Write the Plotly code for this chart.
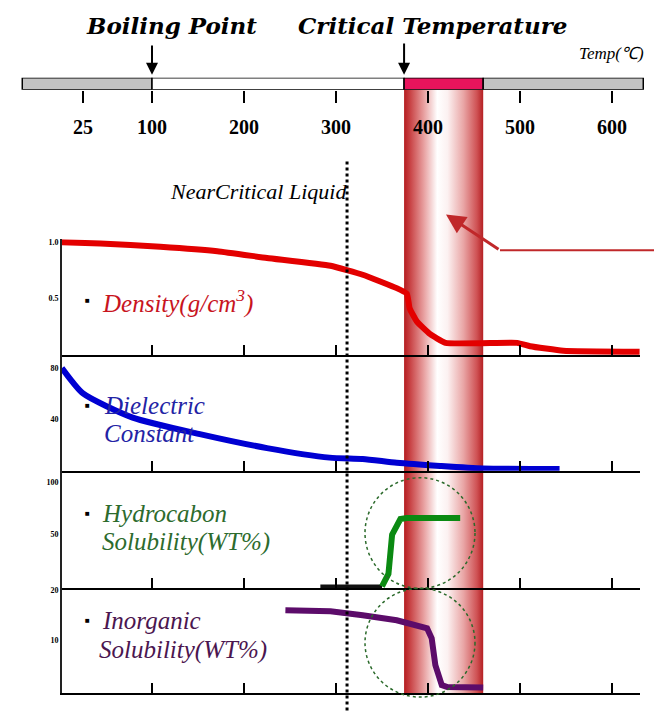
import plotly.graph_objects as go

W, H = 662, 717
OFF = 8  # page body margin of the browser

# ---------------- data ----------------
top_ticks = [25, 100, 200, 300, 400, 500, 600]
panel_ticks = [100, 200, 300, 400, 500, 600]
boiling_point = 100
critical_temp = 374
supercritical_end = 460
scale_min, scale_max = -41, 634
near_critical_T = 312

density_T = [2, 44, 109, 171, 225, 294, 329, 366, 377, 380, 388, 402, 419, 497, 511, 547, 630]
density_val = [1.0, 0.99, 0.96, 0.92, 0.86, 0.79, 0.71, 0.59, 0.54, 0.41, 0.29, 0.18, 0.10, 0.10, 0.07, 0.03, 0.02]

dielectric_T = [2, 25, 79, 152, 225, 293, 329, 366, 413, 460, 543]
dielectric_val = [80, 60, 41, 28, 17, 9.5, 8.5, 5.5, 3, 1, 0.5]

hydro_T = [283, 350, 357, 361, 370, 377, 435]
hydro_val = [0, 0, 12, 50, 65, 66, 66]

inorg_T = [245, 294, 329, 366, 399, 404, 408, 415, 421, 460]
inorg_val = [16, 15.8, 15, 14, 12.4, 10.4, 5, 1, 0.6, 0.5]

# ---------------- layout helpers (screen pixel -> temperature axis) ----------------
def T(px):
    return 100 + (px - 152) / 0.92

def dom(py_top, py_bot):
    return [1 - (py_bot - OFF) / H, 1 - (py_top - OFF) / H]

SERIF = "Liberation Serif"
WIDE = "DejaVu Serif"
fig = go.Figure()

# critical band (gradient)
fig.add_trace(go.Scatter(
    x=[critical_temp, supercritical_end, supercritical_end, critical_temp, critical_temp],
    y=[88, 88, 693, 693, 88], mode="lines", line=dict(width=0),
    fill="toself",
    fillgradient=dict(type="horizontal", colorscale=[
        [0, "#b51d20"], [0.08, "#c94446"], [0.25, "#e8a0a0"], [0.42, "#ffffff"],
        [0.55, "#fcf1f1"], [0.75, "#e9a6a6"], [0.92, "#cf5254"], [1, "#b52023"]]),
    xaxis="x", yaxis="y", hoverinfo="skip", showlegend=False))

# top temperature bar
seg_base = [scale_min, boiling_point, critical_temp, supercritical_end]
seg_end = [boiling_point, critical_temp, supercritical_end, scale_max]
seg_col = ["#c3c3c3", "#ffffff", "#e8145c", "#c3c3c3"]
fig.add_trace(go.Bar(
    orientation="h", base=seg_base, x=[e - b for b, e in zip(seg_base, seg_end)],
    y=[0, 0, 0, 0], width=1, marker=dict(color=seg_col, line=dict(color="black", width=1.5)),
    xaxis="x2", yaxis="y2", showlegend=False, hoverinfo="skip"))

# curves
fig.add_trace(go.Scatter(x=density_T, y=density_val, mode="lines",
                         line=dict(color="#e30000", width=6, shape="spline", smoothing=0.4),
                         xaxis="x3", yaxis="y3", showlegend=False))
fig.add_trace(go.Scatter(x=dielectric_T, y=dielectric_val, mode="lines",
                         line=dict(color="#0000d2", width=6, shape="spline", smoothing=0.6),
                         xaxis="x4", yaxis="y4", showlegend=False))
fig.add_trace(go.Scatter(x=hydro_T[:2], y=hydro_val[:2], mode="lines",
                         line=dict(color="#111111", width=4),
                         xaxis="x5", yaxis="y5", showlegend=False))
fig.add_trace(go.Scatter(x=hydro_T[1:], y=hydro_val[1:], mode="lines",
                         line=dict(color="#0b8a12", width=6),
                         xaxis="x5", yaxis="y5", showlegend=False))
fig.add_trace(go.Scatter(x=inorg_T, y=inorg_val, mode="lines",
                         line=dict(color="#5c0c6a", width=6),
                         xaxis="x6", yaxis="y6", showlegend=False))

# ---------------- axes ----------------
full_range = [T(OFF), T(OFF + W)]
panel_range = [T(62), T(640)]
panel_dom_x = [(62 - OFF) / W, (640 - OFF) / W]

lay = dict(
    width=W, height=H, margin=dict(l=0, r=0, t=0, b=0),
    paper_bgcolor="white", plot_bgcolor="rgba(0,0,0,0)",
    barmode="overlay", showlegend=False,
    xaxis=dict(domain=[0, 1], range=full_range, visible=False, anchor="y"),
    yaxis=dict(domain=[0, 1], range=[H + OFF, OFF], visible=False, anchor="x"),
    xaxis2=dict(domain=[0, 1], range=full_range, anchor="y2", showline=False, showgrid=False,
                zeroline=False, tickvals=top_ticks, ticks="outside", ticklen=12, tickwidth=2,
                tickcolor="black", ticklabelstandoff=7,
                tickfont=dict(family=SERIF, size=20, color="black", weight="bold")),
    yaxis2=dict(domain=dom(76, 88), range=[-0.5, 0.5], visible=False, anchor="x2"),
)

panels = [  # (py_top, py_bottom, zero_px, px_per_unit, tickvals, ticktext)
    (238, 354, 353, 112, [1.0, 0.5], ["1.0", "0.5"]),
    (354, 470, 469, 1.275, [80, 40], ["80", "40"]),
    (470, 588, 586, 1.04, [100, 50], ["100", "50"]),
    (588, 693, 690, 5.0, [20, 10], ["20", "10"]),
]
for i, (pt, pb, z, k, tv, tt) in enumerate(panels):
    n = i + 3
    lay[f"xaxis{n}"] = dict(domain=panel_dom_x, range=panel_range, anchor=f"y{n}",
                            showline=True, linecolor="black", linewidth=2, showgrid=False,
                            zeroline=False, ticks="inside", ticklen=10, tickwidth=2,
                            tickcolor="black", tickvals=panel_ticks, showticklabels=False)
    lay[f"yaxis{n}"] = dict(domain=dom(pt, pb), range=[(z - pb) / k, (z - pt) / k],
                            anchor=f"x{n}", showline=True, linecolor="#222222", linewidth=2,
                            showgrid=False, zeroline=False, ticks="", tickvals=tv, ticktext=tt,
                            tickfont=dict(family=SERIF, size=8, color="black", weight="bold"))
fig.update_layout(**lay)

# ---------------- shapes ----------------
shapes = [
    dict(type="line", xref="x", yref="y", x0=near_critical_T, x1=near_critical_T, y0=160, y1=712,
         line=dict(color="black", width=3, dash="dot"), layer="above"),
    dict(type="circle", xref="x", yref="y", x0=T(365), x1=T(475), y0=477, y1=588,
         line=dict(color="#2b6a2b", width=1.5, dash="dot"), layer="above"),
    dict(type="circle", xref="x", yref="y", x0=T(365), x1=T(475), y0=588, y1=697,
         line=dict(color="#2b6a2b", width=1.5, dash="dot"), layer="above"),
    dict(type="line", xref="x", yref="y", x0=T(500), x1=T(660), y0=249, y1=249,
         line=dict(color="#c0282a", width=2), layer="above"),
]
fig.update_layout(shapes=shapes)

# ---------------- annotations ----------------
ann = []
def text(x, y, s, size, color="black", bold=False, italic=True, xanchor="center",
         yanchor="middle", family=SERIF):
    ann.append(dict(xref="x", yref="y", x=x, y=y, text=s, showarrow=False, xanchor=xanchor,
                    yanchor=yanchor, align="left",
                    font=dict(family=family, size=size, color=color,
                              weight="bold" if bold else "normal",
                              style="italic" if italic else "normal")))

text(T(171), OFF, "Boiling Point", 23, bold=True, yanchor="top", family=WIDE)
text(T(432), OFF, "Critical Temperature", 23, bold=True, yanchor="top", family=WIDE)
text(T(611), 52, "Temp(℃)", 17)
text(T(168), 190, "NearCritical Liquid", 22, xanchor="left")

text(T(100), 300, "Density(g/cm<sup>3</sup>)", 25, color="#c8141e", xanchor="left")
text(T(102), 405, "Dielectric", 25, color="#2323a5", xanchor="left")
text(T(102), 433, "Constant", 25, color="#2323a5", xanchor="left")
text(T(100), 513, "Hydrocabon", 25, color="#2d6b2d", xanchor="left")
text(T(100), 541, "Solubility(WT%)", 25, color="#2d6b2d", xanchor="left")
text(T(100), 620, "Inorganic", 25, color="#4b1650", xanchor="left")
text(T(97), 650, "Solubility(WT%)", 25, color="#4b1650", xanchor="left")
for yb in [299, 405, 513, 620]:
    text(T(87), yb, "■", 8, italic=False)

# arrows
for xt, y0, y1 in [(boiling_point, 42, 73), (critical_temp, 40, 73)]:
    ann.append(dict(xref="x", yref="y", axref="x", ayref="y", x=xt, y=y1, ax=xt, ay=y0,
                    text="", showarrow=True, arrowhead=2, arrowsize=1.2, arrowwidth=2,
                    arrowcolor="black"))
ann.append(dict(xref="x", yref="y", axref="x", ayref="y", x=T(446), y=213, ax=T(500), ay=249,
                text="", showarrow=True, arrowhead=2, arrowsize=1.3, arrowwidth=3,
                arrowcolor="#c0282a"))
fig.update_layout(annotations=ann)

fig.write_html("out.html")
